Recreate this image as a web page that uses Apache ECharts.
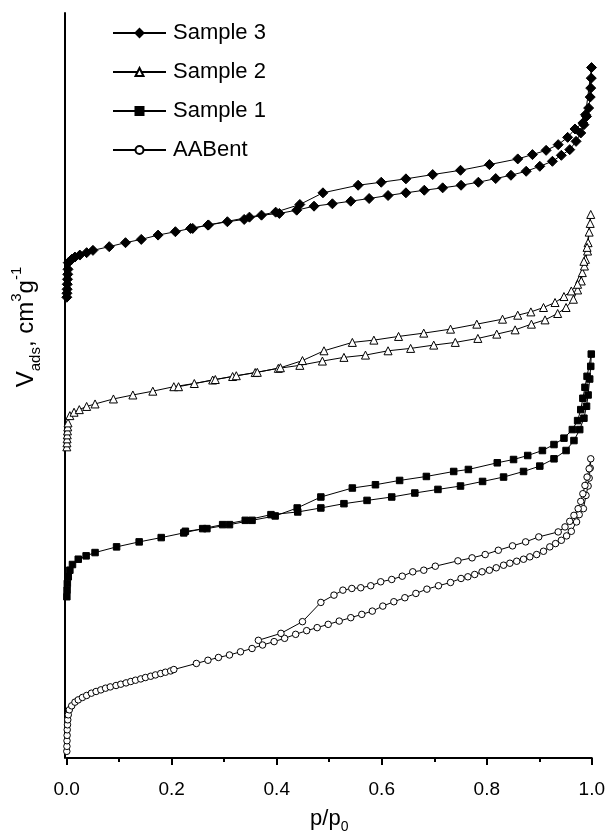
<!DOCTYPE html>
<html>
<head>
<meta charset="utf-8">
<script src="https://cdn.jsdelivr.net/npm/echarts@6/dist/echarts.min.js"></script>
<style>
html,body{margin:0;padding:0;background:#fff;}
#chart{width:608px;height:839px;}
</style>
</head>
<body>
<div id="chart"></div>
<script>
// ---- Data (p/p0, adsorbed volume in arbitrary offset units) ----
const seriesNames = ['Sample 3', 'Sample 2', 'Sample 1', 'AABent'];
const xTickLabels = ['0.0', '0.2', '0.4', '0.6', '0.8', '1.0'];

// Sample 3: adsorption then desorption
const s3AdsP = [0.0002,0.0005,0.0008,0.0011,0.0015,0.002,0.0025,0.003,0.0095,0.0157,0.025,0.038,0.050,0.081,0.112,0.142,0.174,0.207,0.236,0.269,0.306,0.338,0.371,0.405,0.438,0.471,0.506,0.541,0.576,0.612,0.646,0.681,0.716,0.751,0.784,0.817,0.846,0.875,0.901,0.925,0.942,0.958,0.970,0.979,0.985,0.990,0.994,0.997,0.998,0.999,0.9995];
const s3AdsV = [462,466,470,475,480,485,490,496.7,500,502.3,504.3,506.7,509,512.7,516.7,520,524.3,527.7,531,534.3,537.7,540,544.3,546,549.3,553.3,555.7,558.3,561,564,566.7,569.3,571.7,574.3,577.3,581,584.3,588.3,593.3,598.3,604.3,610,618.3,626.7,635,643.3,651.7,662.7,671.7,681.7,692.3];
const s3DesP = [0.988,0.983,0.968,0.954,0.936,0.913,0.887,0.859,0.805,0.750,0.697,0.646,0.599,0.555,0.488,0.444,0.398,0.348,0.270,0.240];
const s3DesV = [645,636.7,630.7,622.3,615,609.3,605,600.7,595,589.3,585,580.7,577.3,574.3,566.7,555,547.3,542.3,534.5,531];

// Sample 2
const s2AdsP = [0.0002,0.0005,0.0008,0.0011,0.0015,0.002,0.0025,0.006,0.014,0.024,0.038,0.054,0.089,0.126,0.164,0.204,0.243,0.278,0.316,0.359,0.403,0.444,0.487,0.528,0.569,0.612,0.655,0.699,0.740,0.783,0.819,0.854,0.885,0.911,0.935,0.951,0.965,0.973,0.977,0.982,0.986,0.988,0.992,0.993,0.995,0.997,0.998];
const s2AdsV = [312,316,320,324,328,332,336,343.3,346.7,349.3,352.5,355,360,364,367.8,372.3,375.5,379,382.5,386.5,390.7,393.7,398,401.7,404,408.3,410.7,414,416.7,420.7,425,429.3,435,439.3,445.7,451.7,460,469.3,480,486.7,493.3,500,508.3,516.7,527.3,536,545];
const s2DesP = [0.991,0.985,0.980,0.973,0.961,0.947,0.930,0.908,0.884,0.859,0.830,0.781,0.731,0.680,0.632,0.585,0.544,0.490,0.449,0.407,0.363,0.323,0.283,0.213];
const s2DesV = [512,498,478.3,475,468.3,462.7,456.7,451.7,447.3,444,440,435,430,426,422.7,419,416.7,408.3,398.5,391.3,386.7,383.3,379.5,372.3];

// Sample 1
const s1AdsP = [0.0003,0.0007,0.0012,0.003,0.006,0.011,0.022,0.037,0.054,0.095,0.138,0.180,0.223,0.259,0.297,0.340,0.389,0.440,0.484,0.528,0.572,0.619,0.663,0.707,0.750,0.792,0.832,0.870,0.901,0.928,0.951,0.966,0.977,0.985,0.990,0.993,0.996,0.998,0.999];
const s1AdsV = [161.7,168.3,175,181.7,188.3,194,199.3,202.7,206,211.7,216.7,221,225.7,230,234,238.3,244,246.7,250.7,255,258.3,261.7,265.7,269.3,272.7,277.3,281.7,287.3,292.7,300,308.3,318.3,329.3,340.7,352.7,364,380,392.7,405];
const s1DesP = [0.991,0.987,0.983,0.979,0.973,0.963,0.947,0.928,0.906,0.878,0.851,0.820,0.765,0.737,0.685,0.634,0.588,0.544,0.484,0.439,0.397,0.353,0.310,0.267,0.226];
const s1DesV = [382.7,371.7,360.7,349.3,338.3,329.3,320.7,314.3,308.3,303.3,299.3,296,289.3,287.3,282.3,278.3,274,270.7,261.7,250.7,242.7,238.3,234,230,227.3];

// AABent
const s0AdsP = [0.0002,0.0004,0.0006,0.0008,0.001,0.0015,0.002,0.003,0.005,0.0095,0.0157,0.022,0.030,0.038,0.047,0.056,0.065,0.074,0.083,0.094,0.103,0.113,0.122,0.131,0.141,0.150,0.160,0.169,0.179,0.188,0.198,0.204,0.247,0.269,0.289,0.310,0.331,0.353,0.373,0.395,0.415,0.436,0.457,0.477,0.498,0.519,0.541,0.562,0.582,0.602,0.623,0.644,0.665,0.686,0.708,0.731,0.751,0.764,0.777,0.791,0.805,0.818,0.832,0.844,0.857,0.870,0.882,0.895,0.908,0.920,0.931,0.942,0.952,0.961,0.971,0.976,0.984,0.989,0.993,0.995,0.997,0.998];
const s0AdsV = [6.7,11.7,17.3,22.7,28.3,33.3,38.3,43.3,48.3,52.3,56,58.3,60.7,62.7,65,66.7,68.3,70,71.3,72.7,74,75.3,76.7,78,79.3,80.7,82,83.3,84.7,86,87.3,88.7,94.8,98,100.8,103.3,106.5,109.8,113.3,116.7,120,124,127.7,130.7,134,137.3,140.7,144,147.3,152.3,156.7,160.7,165,169.3,172.7,176,180,181.7,184,186.7,188.3,190.7,193.3,195.3,197.3,199.3,201.7,204,207.3,211.7,215,218.3,222.7,227.3,236.7,244,250,263.3,272.7,280.7,290.7,300];
const s0DesP = [0.995,0.991,0.987,0.983,0.979,0.974,0.966,0.958,0.949,0.936,0.899,0.874,0.849,0.822,0.797,0.772,0.745,0.702,0.680,0.659,0.639,0.619,0.598,0.579,0.560,0.543,0.526,0.509,0.484,0.449,0.408,0.365];
const s0DesV = [290,281.7,273.3,265,257.3,250,243.3,237.3,231.7,226.7,221.7,216.7,212.7,208.3,204,200.7,197.7,192.3,188.3,186.7,182.3,179,176.7,172.7,170.7,170,168.3,163.3,156,136.7,125,118];

// ---- build ----
function zip(px, vy) { return px.map((p, i) => [p, vy[i]]); }
function loop(adsP, adsV, desP, desV) { return zip(adsP, adsV).concat(zip(desP, desV)); }

const FONT = "'Liberation Sans', Arial, sans-serif";
const chart = echarts.init(document.getElementById('chart'), null, { renderer: 'canvas' });

const styles = [
  { symbol: 'diamond', size: 10, fill: '#000' },
  { symbol: 'triangle', size: 8, fill: '#fff' },
  { symbol: 'rect', size: 6.5, fill: '#000' },
  { symbol: 'circle', size: 6.5, fill: '#fff' }
];
const datas = [
  loop(s3AdsP, s3AdsV, s3DesP, s3DesV),
  loop(s2AdsP, s2AdsV, s2DesP, s2DesV),
  loop(s1AdsP, s1AdsV, s1DesP, s1DesV),
  loop(s0AdsP, s0AdsV, s0DesP, s0DesV)
];

const series = seriesNames.map((name, i) => ({
  name: name,
  type: 'line',
  data: datas[i],
  symbol: styles[i].symbol,
  symbolSize: styles[i].size,
  showSymbol: true,
  showAllSymbol: true,
  clip: false,
  lineStyle: { color: '#000', width: 1 },
  itemStyle: { color: styles[i].fill, borderColor: '#000', borderWidth: 1 },
  z: 3 + i
}));

chart.setOption({
  animation: false,
  backgroundColor: '#fff',
  grid: { left: 66.7, right: 14.3, top: 13, bottom: 79, containLabel: false },
  legend: {
    orient: 'vertical',
    left: 112,
    top: 22,
    padding: 0,
    itemWidth: 53,
    itemHeight: 10,
    itemGap: 17,
    data: seriesNames,
    textStyle: { fontFamily: FONT, fontSize: 22, color: '#000', padding: [0, 0, 0, 2] }
  },
  xAxis: {
    type: 'value',
    min: 0,
    max: 1,
    interval: 0.2,
    axisLine: { show: true, onZero: false, lineStyle: { color: '#000', width: 2 } },
    axisTick: { show: true, inside: false, length: 7, lineStyle: { color: '#000', width: 2 } },
    minorTick: { show: true, splitNumber: 2, length: 4, lineStyle: { color: '#000', width: 2 } },
    splitLine: { show: false },
    axisLabel: {
      margin: 22,
      fontFamily: FONT,
      fontSize: 19,
      color: '#000',
      formatter: function (v) { const k = Math.round(v / 0.2); return xTickLabels[k] !== undefined ? xTickLabels[k] : ''; }
    },
    name: '{n|p/p}{s|0}',
    nameLocation: 'middle',
    nameGap: 46,
    nameTextStyle: {
      rich: {
        n: { fontFamily: FONT, fontSize: 22, color: '#000', lineHeight: 30, verticalAlign: 'middle' },
        s: { fontFamily: FONT, fontSize: 14, color: '#000', lineHeight: 30, verticalAlign: 'bottom' }
      }
    }
  },
  yAxis: {
    type: 'value',
    min: 0,
    max: 747,
    offset: 2,
    axisLine: { show: true, onZero: false, lineStyle: { color: '#000', width: 2 } },
    axisTick: { show: false },
    axisLabel: { show: false },
    splitLine: { show: false }
  },
  graphic: [{
    type: 'text',
    x: 26,
    y: 327,
    rotation: Math.PI / 2,
    style: {
      text: '{n|V}{s|ads}{n|, cm}{p|3}{n|g}{p|-1}',
      align: 'center',
      verticalAlign: 'middle',
      rich: {
        n: { fontFamily: FONT, fontSize: 24, fill: '#000', lineHeight: 34, verticalAlign: 'middle' },
        s: { fontFamily: FONT, fontSize: 15, fill: '#000', lineHeight: 34, verticalAlign: 'bottom' },
        p: { fontFamily: FONT, fontSize: 15, fill: '#000', lineHeight: 34, verticalAlign: 'top' }
      }
    }
  }],
  series: series
});
</script>
</body>
</html>
